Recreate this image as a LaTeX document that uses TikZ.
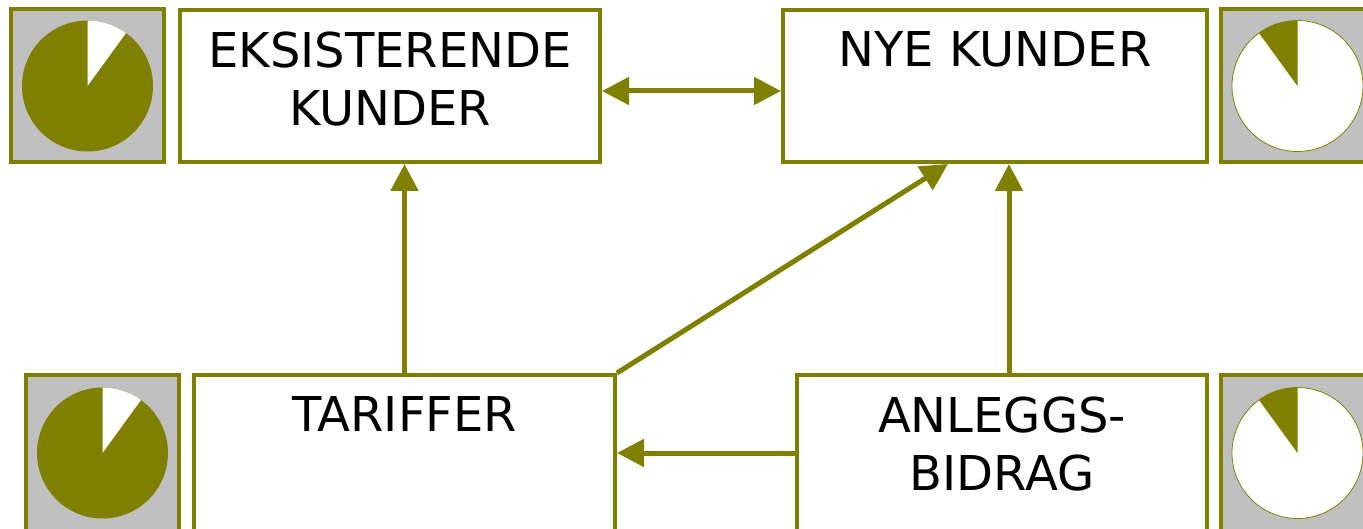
\documentclass[tikz,border=0pt]{standalone}
\usepackage{fontspec}
\setmainfont{DejaVu Sans}
\usetikzlibrary{positioning,arrows.meta}
\definecolor{olivegreen}{HTML}{808000}
\definecolor{piegray}{HTML}{C0C0C0}

\begin{document}
\begin{tikzpicture}[x=1pt, y=1pt,
						box/.style={rectangle, draw=olivegreen, line width=4pt, fill=white, minimum height=152pt},
						piebox/.style={rectangle, draw=olivegreen, line width=4pt, fill=piegray, minimum size=153pt},
						caption/.style={inner sep=0pt, outer sep=0pt, align=center, font=\fontsize{48}{58}\selectfont}
					]
					\useasboundingbox (0,0) rectangle (1363,528);
					\clip (0,0) rectangle (1363,528);
					\node[box, minimum width=420pt] (eksist) at (390,442) {};
					\node[box, minimum width=424pt] (nye) [right=179pt of eksist] {};
					\node[box, minimum width=421pt, minimum height=156pt] (tariffer) at (404.5,75) {};
					\node[box, minimum width=410pt, minimum height=156pt] (anlegg) [right=178pt of tariffer] {};
					\node[caption] (eksisttext) [below=24pt of eksist.north] {EKSISTERENDE\\KUNDER};
					\node[caption] (nyetext) [below=24pt of nye.north] {NYE KUNDER};
					\node[caption] (tariffertext) [below=24pt of tariffer.north] {TARIFFER};
					\node[caption] (anleggtext) [below=24pt of anlegg.north] {ANLEGGS-\\BIDRAG};
					\node[piebox] (pieeksist) [left=12pt of eksist] {};
					\node[piebox] (pienye) [right=10pt of nye] {};
					\node[piebox, minimum height=156pt] (pietariffer) [left=11pt of tariffer] {};
					\node[piebox, minimum height=156pt] (pieanlegg) [right=10pt of anlegg] {};
					% pies: 90 % olive on the left, 10 % olive on the right
					\foreach \p in {pieeksist, pietariffer} {
						\fill[olivegreen] (\p.center) circle (65.5pt);
						\fill[white] (\p.center) -- ++(90:65.5pt) arc[start angle=90, end angle=54, radius=65.5pt] -- cycle;
					}
					\foreach \p in {pienye, pieanlegg} {
						\filldraw[fill=white, draw=olivegreen, line width=0.8pt] (\p.center) circle (65.5pt);
						\fill[olivegreen] (\p.center) -- ++(90:65.5pt) arc[start angle=90, end angle=126, radius=65.5pt] -- cycle;
					}
					\begin{scope}[line width=5pt, draw=olivegreen, -{Triangle[length=27pt, width=27pt]}]
					\draw[{Triangle[length=27pt, width=27pt]}-{Triangle[length=27pt, width=27pt]}] ([yshift=-5pt]eksist.east) -- ([yshift=-5pt]nye.west);
					\draw (tariffer.north) -- (tariffer.north |- eksist.south);
					\draw (tariffer.north east) -- ([xshift=-47pt]nye.south);
					\draw ([xshift=7pt]anlegg.north) -- ([xshift=7pt]anlegg.north |- nye.south);
					\draw (anlegg.west) -- (tariffer.east);
					\end{scope}
					\end{tikzpicture}
\end{document}
